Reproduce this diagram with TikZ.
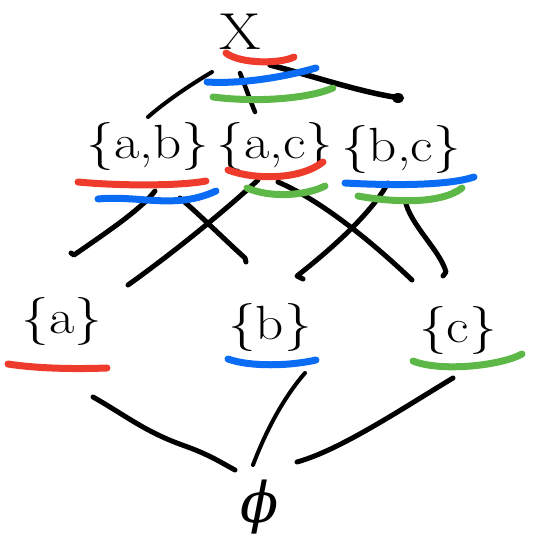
\documentclass[tikz,border=0pt]{standalone}
\usepackage{fontspec}
\setmainfont[FakeStretch=1.15]{Latin Modern Roman}
\newfontfamily\phifont{DejaVu Serif}
\definecolor{hred}{HTML}{EE3B2B}
\definecolor{hblue}{HTML}{0A6CF5}
\definecolor{hgreen}{HTML}{5DB847}
\tikzset{
  setlabel/.style={inner sep=0pt, font=\fontsize{48}{54}\selectfont},
  edge/.style={draw=black, line width=5pt, line cap=round, line join=round},
  mark red/.style={draw=hred, line width=7pt, line cap=round},
  mark blue/.style={draw=hblue, line width=7pt, line cap=round},
  mark green/.style={draw=hgreen, line width=7pt, line cap=round},
}
\begin{document}
\begin{tikzpicture}[x=1pt,y=-1pt]
\useasboundingbox (0,0) rectangle (536,544);
% labels
\node[setlabel, font=\fontsize{52}{58}\selectfont] (top) at (240,32) {X};
\node[setlabel] (ab) at (148,146) {\{a,b\}};
\node[setlabel] (ac) at (275,146) {\{a,c\}};
\node[setlabel] (bc) at (401,149) {\{b,c\}};
\node[setlabel] (a) at (62,321) {\{a\}};
\node[setlabel] (b) at (270,327) {\{b\}};
\node[setlabel] (c) at (458,330) {\{c\}};
\node[inner sep=0pt, font=\phifont\itshape\fontsize{56}{60}\selectfont] (empty) at (260,507) {ϕ};
% connector end points
\coordinate (t1a) at (212,72);  \coordinate (t1b) at (148,117);
\coordinate (t2a) at (240,73);  \coordinate (t2b) at (255,112);
\coordinate (t3a) at (270,65);  \coordinate (t3b) at (400,98);
\coordinate (m1a) at (155,191); \coordinate (m1b) at (74,255);
\coordinate (m2a) at (180,198); \coordinate (m2b) at (245,258);
\coordinate (m3a) at (258,180); \coordinate (m3b) at (128,285);
\coordinate (m4a) at (278,182); \coordinate (m4b) at (412,280);
\coordinate (m5a) at (388,183); \coordinate (m5b) at (297,276);
\coordinate (m6a) at (405,200); \coordinate (m6b) at (446,272);
\coordinate (b1a) at (93,397);  \coordinate (b1b) at (235,470);
\coordinate (b2a) at (305,373); \coordinate (b2b) at (253,465);
\coordinate (b3a) at (453,378); \coordinate (b3b) at (297,462);
% top connectors
\draw[edge, line width=4pt] (t1a) .. controls (190,85) and (165,102) .. (t1b);
\draw[edge, line width=4.5pt] (t2a) .. controls (246,88) and (250,100) .. (t2b);
\draw[edge, line width=5.5pt] (t3a) .. controls (320,78) and (360,92) .. (t3b);
\fill (398,98) ellipse (6pt and 5pt);
% middle connectors
\draw[edge] (m1a) .. controls (140,210) and (110,230) .. (m1b) -- ++(-3,-2);
\draw[edge] (m2a) .. controls (200,215) and (225,240) .. (m2b) -- ++(1,4);
\draw[edge] (m3a) .. controls (220,215) and (170,255) .. (m3b);
\draw[edge] (m4a) .. controls (320,200) and (370,240) .. (m4b);
\draw[edge] (m5a) .. controls (370,215) and (330,250) .. (m5b) -- ++(6,3);
\draw[edge] (m6a) .. controls (410,225) and (440,250) .. (m6b) -- ++(-3,4);
% bottom connectors
\draw[edge] (b1a) .. controls (125,415) and (145,432) .. (185,446) .. controls (210,455) and (220,462) .. (b1b);
\draw[edge, line width=4pt] (b2a) .. controls (290,390) and (270,420) .. (b2b);
\draw[edge] (b3a) .. controls (400,410) and (340,450) .. (b3b);
% colour marks: top
\draw[mark red] (226,53) .. controls (240,64) and (280,64) .. (294,57);
\draw[mark blue] (207,82) .. controls (240,84) and (280,78) .. (316,68);
\draw[mark green] (213,97) .. controls (260,103) and (310,98) .. (333,88);
% colour marks: pairs
\draw[mark red] (78,182) .. controls (120,186) and (180,186) .. (206,181);
\draw[mark blue] (98,199) .. controls (140,195) and (175,210) .. (216,191);
\draw[mark red] (228,170) .. controls (255,180) and (300,180) .. (323,162);
\draw[mark green] (247,188) .. controls (270,198) and (305,196) .. (325,186);
\draw[mark blue] (345,183) .. controls (400,186) and (450,185) .. (474,177);
\draw[mark green] (358,196) .. controls (390,202) and (440,205) .. (462,188);
% colour marks: singletons
\draw[mark red] (8,364) .. controls (40,369) and (80,369) .. (107,368);
\draw[mark blue] (228,359) .. controls (250,367) and (290,366) .. (316,360);
\draw[mark green] (413,361) .. controls (440,372) and (500,366) .. (522,354);
\end{tikzpicture}
\end{document}
